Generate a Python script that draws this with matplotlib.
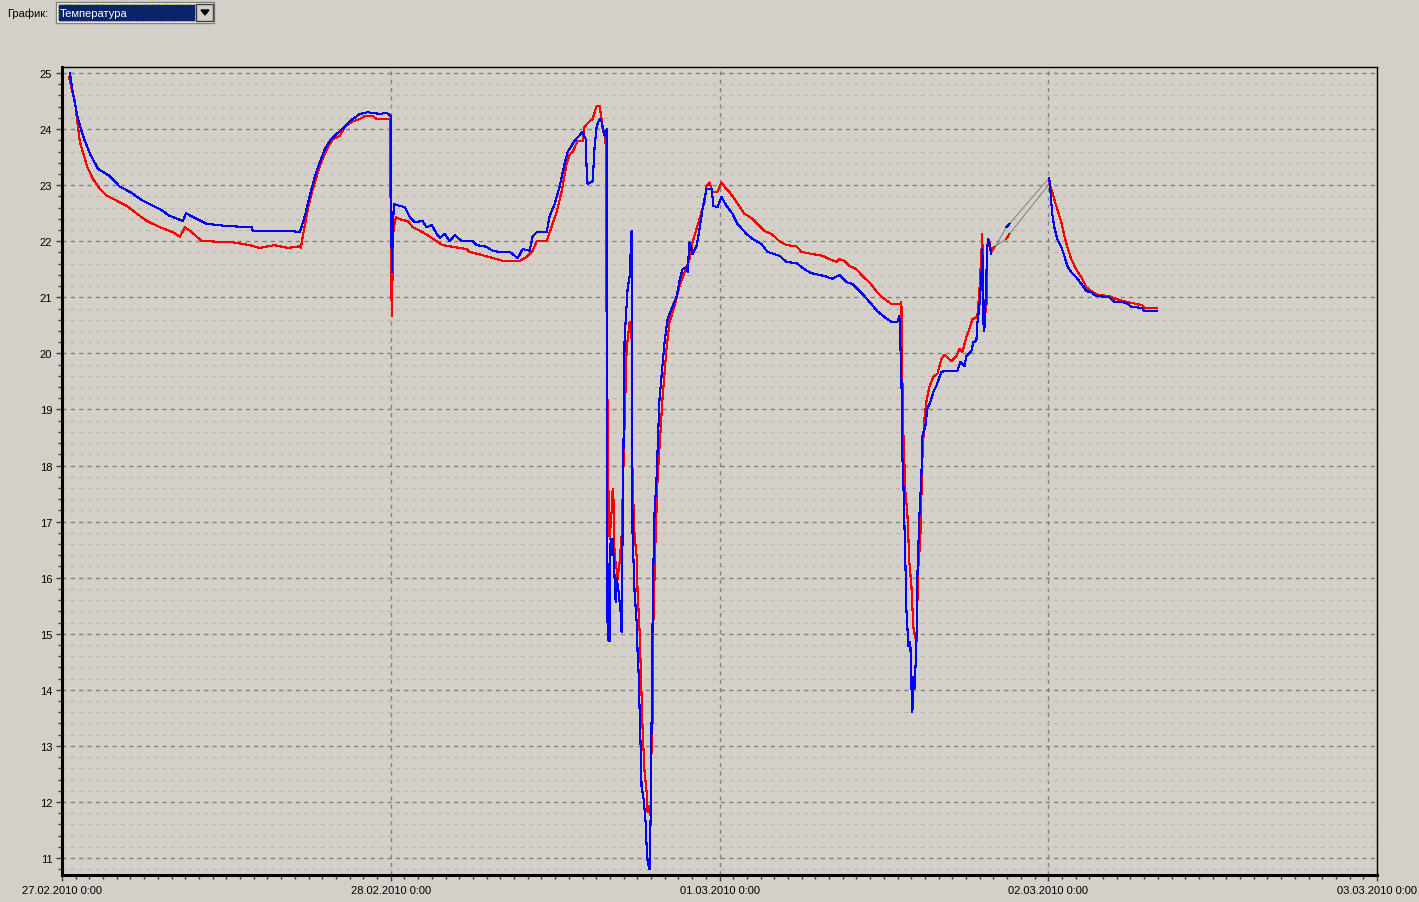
import matplotlib
matplotlib.use("Agg")
import matplotlib.pyplot as plt
from matplotlib.patches import Rectangle, Polygon
from matplotlib.ticker import MultipleLocator, FixedLocator

# hours since 27.02.2010 0:00, temperature
blue_t = [0.58, 0.80, 1.17, 1.53, 2.04, 2.63, 3.50, 4.23, 4.96, 5.91, 7.15, 7.88, 8.83, 9.05,
          9.56, 10.58, 12.04, 13.86, 13.93, 16.85, 17.36, 17.73, 18.09, 18.46, 18.82, 19.19,
          19.55, 20.13, 20.64, 21.01, 21.74, 22.32, 23.20, 23.71, 24.00, 24.07, 24.22, 24.66,
          25.02, 25.39, 25.75, 26.33, 26.63, 26.99, 27.36, 27.58, 27.94, 28.30, 28.67, 29.18,
          29.98, 30.27, 31.00, 31.44, 31.95, 32.68, 33.27, 33.63, 34.14, 34.36, 34.65, 35.38,
          35.60, 35.96, 36.33, 36.69, 36.91, 37.42, 38.01, 38.23, 38.30, 38.37, 38.74, 38.88,
          39.03, 39.25, 39.39, 39.61, 39.76, 39.83, 39.98, 40.05, 40.20, 40.27, 40.42, 40.49,
          40.64, 40.78, 40.85, 41.07, 41.29, 41.44, 41.58, 41.65, 41.80, 41.95, 42.02, 42.09,
          42.24, 42.31, 42.46, 42.60, 42.68, 42.75, 42.89, 42.97, 43.04, 43.11, 43.18, 43.26,
          43.40, 43.62, 43.99, 44.21, 44.57, 44.86, 45.08, 45.30, 45.59, 45.67, 45.81, 46.03,
          46.32, 46.54, 46.76, 47.05, 47.42, 47.56, 47.85, 48.15, 48.51, 48.95, 49.31, 49.97,
          50.41, 51.07, 51.50, 52.38, 52.89, 53.62, 54.20, 54.71, 55.66, 56.24, 56.76, 57.27,
          57.70, 58.21, 58.58, 59.09, 59.53, 60.04, 60.55, 60.99, 61.13, 61.28, 61.35, 61.42,
          61.50, 61.57, 61.64, 61.79, 61.93, 62.01, 62.08, 62.15, 62.23, 62.37, 62.44, 62.59,
          62.74, 62.81, 63.03, 63.17, 63.39, 63.61, 63.83, 64.20, 64.63, 65.37, 65.58, 65.88,
          66.02, 66.39, 66.53, 66.75, 66.82, 66.97, 67.11, 67.19, 67.26, 67.33, 67.41, 67.55,
          67.63, 67.77, 67.84, 68.94, 69.16, 72.07, 72.15, 72.22, 72.29, 72.44, 72.66, 72.95,
          73.17, 73.39, 73.68, 74.04, 74.41, 74.77, 75.14, 75.50, 75.72, 76.45, 76.82, 77.18,
          77.69, 78.06, 78.86, 79.00, 79.95]
blue_v = [25.00, 24.63, 24.18, 23.88, 23.56, 23.29, 23.16, 22.97, 22.88, 22.72, 22.57, 22.45, 22.36, 22.50,
          22.43, 22.31, 22.27, 22.25, 22.18, 22.18, 22.16, 22.45, 22.81, 23.16, 23.41, 23.64,
          23.79, 23.93, 24.04, 24.14, 24.27, 24.30, 24.27, 24.29, 24.23, 21.45, 22.66, 22.63,
          22.61, 22.43, 22.34, 22.36, 22.25, 22.29, 22.13, 22.06, 22.13, 22.00, 22.11, 22.00,
          22.00, 21.93, 21.90, 21.83, 21.81, 21.81, 21.70, 21.86, 21.83, 22.09, 22.16, 22.16,
          22.45, 22.66, 22.98, 23.38, 23.59, 23.79, 23.95, 23.82, 23.29, 23.02, 23.07, 23.68,
          24.05, 24.18, 24.13, 23.88, 24.00, 14.91, 14.87, 16.69, 16.69, 16.38, 15.56, 16.00,
          15.74, 15.38, 15.03, 20.25, 21.15, 21.38, 22.18, 16.81, 15.74, 15.21, 14.67, 14.32,
          13.00, 12.28, 12.05, 11.66, 11.21, 10.95, 10.80, 11.70, 13.43, 15.14, 16.28, 17.17,
          17.76, 19.19, 20.20, 20.61, 20.84, 21.00, 21.29, 21.50, 21.54, 21.45, 21.98, 21.77,
          21.91, 22.22, 22.57, 22.93, 22.93, 22.63, 22.61, 22.79, 22.63, 22.49, 22.31, 22.13,
          22.04, 21.95, 21.81, 21.74, 21.63, 21.61, 21.50, 21.43, 21.38, 21.33, 21.40, 21.27,
          21.24, 21.11, 21.02, 20.88, 20.75, 20.65, 20.56, 20.56, 20.67, 19.60, 18.17, 17.71,
          16.92, 16.28, 15.44, 14.78, 14.85, 14.07, 13.60, 14.23, 14.01, 14.73, 15.98, 17.10,
          17.81, 18.53, 18.70, 19.01, 19.13, 19.31, 19.42, 19.67, 19.69, 19.69, 19.85, 19.77,
          19.95, 20.04, 20.20, 20.22, 20.52, 20.84, 21.33, 21.86, 20.56, 20.40, 20.84, 21.90,
          22.04, 21.86, 21.77, 22.25, 22.31, 23.13, 22.93, 22.70, 22.49, 22.25, 22.04, 21.90,
          21.74, 21.56, 21.45, 21.36, 21.24, 21.11, 21.09, 21.02, 21.02, 21.00, 20.92, 20.92,
          20.90, 20.83, 20.81, 20.76, 20.76]

red_t = [0.50, 0.95, 1.09, 1.31, 1.82, 2.26, 2.77, 3.28, 4.01, 4.74, 5.47, 6.20, 7.15, 8.10,
         8.61, 8.97, 9.48, 10.21, 10.58, 12.47, 13.71, 14.44, 15.50, 16.50, 17.36, 17.44, 17.58,
         17.95, 18.31, 18.82, 19.33, 19.77, 20.28, 20.64, 21.16, 21.74, 22.10, 22.69, 22.98,
         23.93, 24.07, 24.20, 24.37, 24.80, 25.24, 25.61, 26.33, 26.85, 27.79, 28.52, 29.54,
         29.76, 30.71, 31.73, 32.17, 33.41, 33.92, 34.36, 34.65, 35.38, 35.60, 36.11, 36.47,
         36.84, 37.06, 37.28, 37.64, 38.01, 38.15, 38.52, 38.74, 39.03, 39.25, 39.39, 39.47,
         39.68, 39.76, 39.91, 39.98, 40.12, 40.20, 40.27, 40.34, 40.49, 40.56, 40.71, 40.85,
         41.22, 41.44, 41.58, 41.65, 41.80, 41.95, 42.02, 42.17, 42.31, 42.39, 42.53, 42.68,
         42.75, 42.89, 42.97, 43.04, 43.11, 43.18, 43.33, 43.48, 43.84, 44.13, 44.35, 44.72,
         45.08, 45.45, 45.81, 46.03, 46.32, 46.69, 46.91, 47.05, 47.27, 47.49, 47.85, 48.00,
         48.15, 48.37, 48.73, 49.24, 49.82, 50.41, 50.77, 51.28, 51.80, 52.38, 52.89, 53.62,
         53.98, 54.79, 55.51, 56.03, 56.54, 56.76, 57.12, 57.48, 58.00, 58.43, 58.94, 59.45,
         59.89, 60.55, 61.21, 61.28, 61.30, 61.35, 61.42, 61.57, 61.71, 61.86, 62.01, 62.08,
         62.15, 62.30, 62.37, 62.44, 62.52, 62.66, 62.74, 62.81, 62.96, 63.10, 63.25, 63.32,
         63.54, 63.68, 63.90, 64.20, 64.42, 64.63, 64.93, 65.29, 65.51, 65.73, 66.02, 66.24,
         66.46, 66.82, 66.97, 67.11, 67.19, 67.22, 67.26, 67.41, 67.48, 67.55, 67.70, 67.84,
         67.92, 68.06, 68.94, 69.16, 72.07, 72.22, 72.44, 72.66, 72.95, 73.17, 73.39, 73.68,
         74.04, 74.41, 74.77, 75.14, 75.58, 76.45, 76.96, 77.69, 78.86, 79.00, 79.95]
red_v = [24.93, 24.48, 24.18, 23.77, 23.34, 23.11, 22.93, 22.81, 22.72, 22.63, 22.49, 22.36, 22.25, 22.16,
         22.08, 22.25, 22.16, 22.00, 22.00, 21.98, 21.93, 21.88, 21.93, 21.88, 21.91, 21.88, 22.09,
         22.57, 22.93, 23.34, 23.64, 23.82, 23.88, 24.04, 24.13, 24.18, 24.23, 24.23, 24.18,
         24.18, 20.67, 22.20, 22.43, 22.38, 22.36, 22.25, 22.16, 22.08, 21.93, 21.90, 21.86,
         21.81, 21.75, 21.68, 21.65, 21.65, 21.72, 21.83, 22.00, 22.00, 22.16, 22.52, 22.88,
         23.38, 23.55, 23.59, 23.79, 23.79, 24.04, 24.14, 24.18, 24.41, 24.41, 24.18, 24.00,
         23.82, 20.52, 17.17, 16.69, 17.17, 17.58, 17.35, 16.39, 16.15, 15.98, 16.28, 16.74,
         20.08, 20.56, 20.26, 17.76, 16.74, 16.39, 15.74, 15.03, 13.89, 13.25, 12.53, 12.18,
         11.82, 11.93, 11.75, 13.00, 13.43, 15.30, 16.69, 17.76, 19.20, 20.08, 20.56, 20.84,
         21.20, 21.45, 21.68, 21.98, 22.22, 22.52, 22.70, 22.98, 23.05, 22.88, 22.88, 22.97,
         23.05, 22.97, 22.88, 22.70, 22.49, 22.40, 22.31, 22.18, 22.13, 22.00, 21.93, 21.91,
         21.81, 21.77, 21.74, 21.68, 21.63, 21.68, 21.65, 21.56, 21.50, 21.38, 21.27, 21.11,
         21.00, 20.88, 20.88, 20.92, 20.38, 19.54, 18.60, 17.53, 17.17, 16.28, 15.85, 15.48,
         15.12, 14.94, 14.78, 15.49, 16.21, 16.69, 17.46, 18.12, 18.83, 19.13, 19.31, 19.40,
         19.54, 19.60, 19.63, 19.90, 19.97, 19.93, 19.86, 19.95, 20.08, 20.02, 20.29, 20.43,
         20.61, 20.65, 21.10, 21.77, 22.13, 21.27, 20.97, 20.84, 20.74, 21.90, 21.98, 21.81,
         21.86, 21.90, 22.04, 22.13, 23.02, 22.93, 22.75, 22.57, 22.34, 22.10, 21.90, 21.68,
         21.50, 21.36, 21.18, 21.11, 21.05, 21.02, 20.97, 20.92, 20.86, 20.81, 20.81]

# missing data window: long steps inside it are drawn as grey connectors
gap_window = (67.8, 72.1)
day_labels = ["27.02.2010 0:00", "28.02.2010 0:00", "01.03.2010 0:00",
              "02.03.2010 0:00", "03.03.2010 0:00"]

BG = "#d4d0c8"
W, H = 1419, 903

fig = plt.figure(figsize=(W / 100, H / 100), dpi=100, facecolor=BG)
plt.rcParams['font.family'] = ['Liberation Sans', 'DejaVu Sans']


def px(x0, y0, w, h):
    return (x0 / W, 1 - (y0 + h) / H, w / W, h / H)


ax = fig.add_axes(px(62, 68, 1315, 808))
ax.set_facecolor(BG)
ax.set_xlim(0, 96)
ax.set_ylim(10.697, 25.107)

ax.yaxis.set_major_locator(MultipleLocator(1))
ax.yaxis.set_minor_locator(MultipleLocator(0.2))
ax.xaxis.set_major_locator(FixedLocator([0, 24, 48, 72, 96]))
ax.xaxis.set_minor_locator(MultipleLocator(1))
ax.set_xticklabels(day_labels)

ax.grid(True, which='major', axis='y', color='#808080', linestyle=(0, (3, 3)), linewidth=1)
ax.grid(True, which='minor', axis='y', color='#bcb9b2', linestyle=(0, (3, 3)), linewidth=1)
ax.grid(True, which='major', axis='x', color='#808080', linestyle=(0, (3, 3)), linewidth=1)
ax.set_axisbelow(True)

ax.tick_params(which='both', direction='out', color='#404040', labelsize=8, labelcolor='black')
ax.tick_params(which='major', length=4, width=1, pad=3)
ax.tick_params(which='minor', length=3, width=1)

for side in ('left', 'bottom'):
    ax.spines[side].set_linewidth(2.2)
for side in ('top', 'right'):
    ax.spines[side].set_linewidth(1)


def draw(t, v, color):
    start = 0
    for i in range(len(t) - 1):
        gap = (t[i] >= gap_window[0] and t[i + 1] <= gap_window[1]
               and t[i + 1] - t[i] > 0.5)
        if gap:
            ax.plot(t[start:i + 1], v[start:i + 1], color=color, lw=0.8,
                    antialiased=False, zorder=3)
            ax.plot(t[i:i + 2], v[i:i + 2], color='#808080', lw=0.7, zorder=2)
            start = i + 1
    ax.plot(t[start:], v[start:], color=color, lw=0.8, antialiased=False, zorder=3)


draw(red_t, red_v, '#ff0000')
draw(blue_t, blue_v, '#0000ff')

# combo box at the top
fig.text(7 / W, 1 - 14 / H, "График:", fontsize=8, va='center', ha='left')
fig.patches.append(Rectangle(px(56, 3, 158, 21)[:2], 158 / W, 21 / H,
                             transform=fig.transFigure, facecolor='white',
                             edgecolor='#808080', lw=1))
fig.patches.append(Rectangle(px(58, 5, 137, 17)[:2], 137 / W, 17 / H,
                             transform=fig.transFigure, facecolor='#0a246a',
                             edgecolor='#e8d870', lw=0.8, linestyle=':'))
fig.patches.append(Rectangle(px(196, 5, 17, 17)[:2], 17 / W, 17 / H,
                             transform=fig.transFigure, facecolor=BG,
                             edgecolor='#404040', lw=1))
fig.patches.append(Polygon([(201 / W, 1 - 11 / H), (209 / W, 1 - 11 / H), (205 / W, 1 - 16 / H)],
                           closed=True, transform=fig.transFigure,
                           facecolor='black', edgecolor='black'))
fig.text(60 / W, 1 - 14 / H, "Температура", fontsize=8, va='center', ha='left', color='white')

fig.savefig("out.png", dpi=100, facecolor=BG)
